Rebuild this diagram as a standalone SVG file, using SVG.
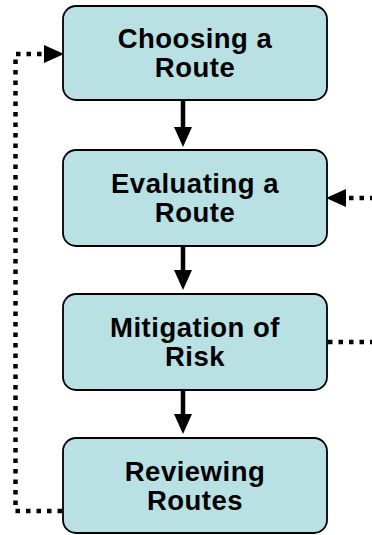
<svg xmlns="http://www.w3.org/2000/svg" width="372" height="535" viewBox="0 0 372 535">
<style>
.box{fill:#B9E0E3;stroke:#000;stroke-width:1.8}
.lbl{font-family:"Liberation Sans",Arial,sans-serif;font-weight:bold;font-size:27.5px;letter-spacing:0.5px;fill:#000;text-anchor:middle}
.solid{fill:none;stroke:#000;stroke-width:4.5}
.dot{fill:none;stroke:#000;stroke-width:4.5;stroke-dasharray:4.5 6}
</style>
<defs>
<marker id="ah" viewBox="0 0 20 18" refX="0" refY="9" markerWidth="20" markerHeight="18" markerUnits="userSpaceOnUse" orient="auto">
<path d="M0,0 L20,9 L0,18 z" fill="#000"/>
</marker>
</defs>
<g id="connectors">
<path class="solid" d="M183,101 V127" marker-end="url(#ah)"/>
<path class="solid" d="M183,246 V270" marker-end="url(#ah)"/>
<path class="solid" d="M183,390 V414" marker-end="url(#ah)"/>
<path class="dot" d="M62,511 H15.5 V54 H44" marker-end="url(#ah)"/>
<path class="dot" d="M328,342 H400 V198 H346" marker-end="url(#ah)"/>
</g>
<g id="choosing">
<rect class="box" x="63" y="6" width="264" height="94" rx="13"/>
<text class="lbl" x="195" y="48">Choosing a</text>
<text class="lbl" x="195" y="77">Route</text>
</g>
<g id="evaluating">
<rect class="box" x="63" y="150" width="264" height="96" rx="13"/>
<text class="lbl" x="195" y="193">Evaluating a</text>
<text class="lbl" x="195" y="222">Route</text>
</g>
<g id="mitigation">
<rect class="box" x="63" y="294" width="264" height="96" rx="13"/>
<text class="lbl" x="195" y="337">Mitigation of</text>
<text class="lbl" x="195" y="366">Risk</text>
</g>
<g id="reviewing">
<rect class="box" x="63" y="438" width="264" height="95" rx="13"/>
<text class="lbl" x="195" y="481">Reviewing</text>
<text class="lbl" x="195" y="510">Routes</text>
</g>
</svg>
